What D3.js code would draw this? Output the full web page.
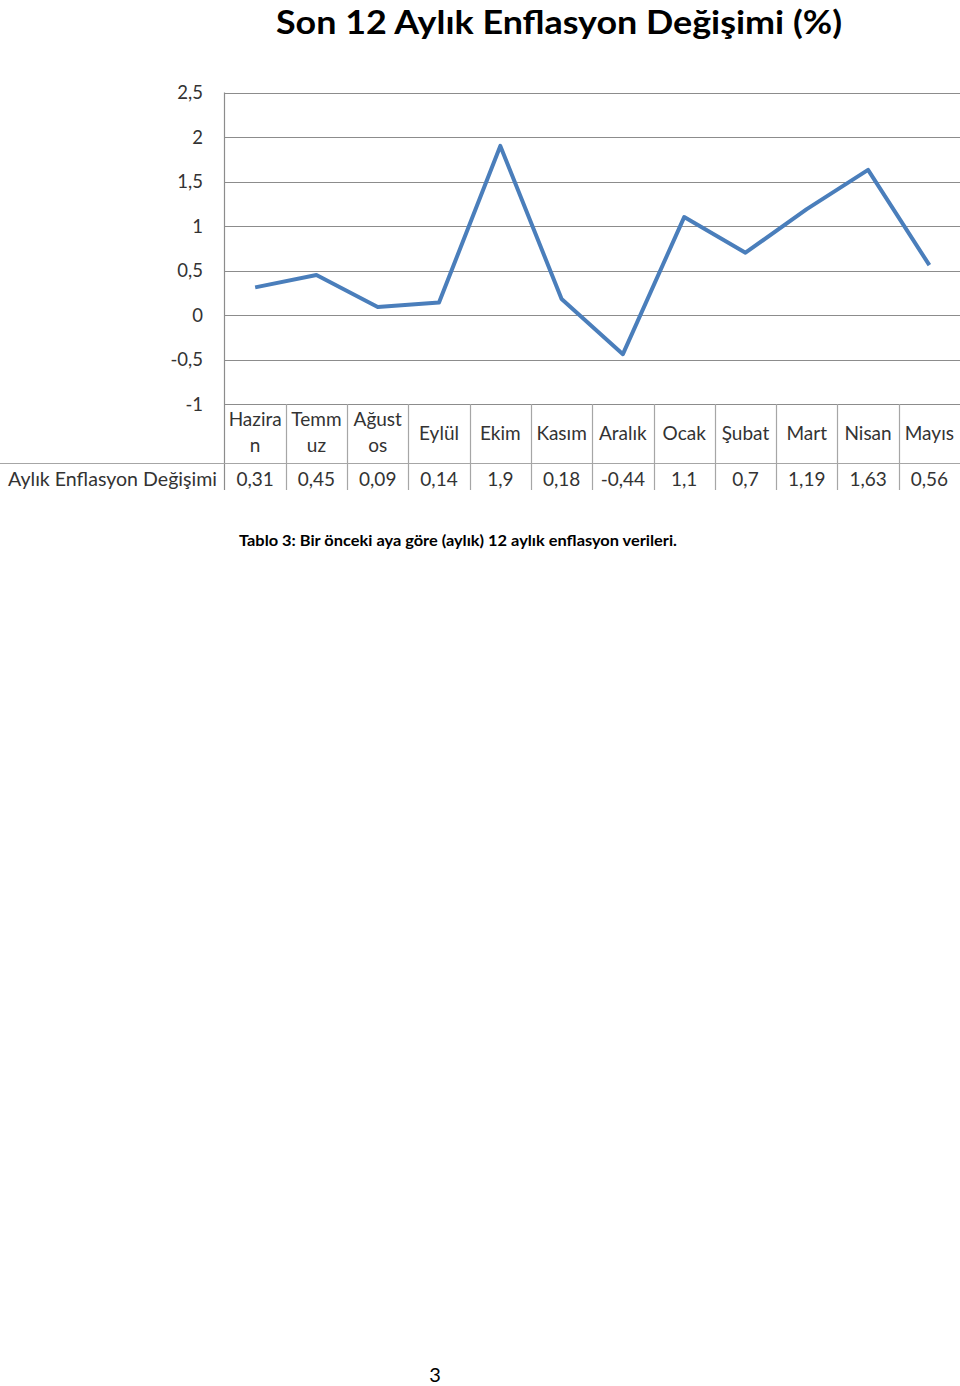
<!DOCTYPE html>
<html>
<head>
<meta charset="utf-8">
<script src="https://cdn.jsdelivr.net/npm/d3@7"></script>
<style>
  html, body { margin: 0; padding: 0; background: #fff; }
  svg { display: block; }
  text { font-family: Lato, "Open Sans", sans-serif; }
</style>
</head>
<body>
<svg id="chart" width="960" height="1386"></svg>
<script>
const months = ["Haziran", "Temmuz", "Ağustos", "Eylül", "Ekim", "Kasım", "Aralık", "Ocak", "Şubat", "Mart", "Nisan", "Mayıs"];
const monthLines = [["Hazira", "n"], ["Temm", "uz"], ["Ağust", "os"], ["Eylül"], ["Ekim"], ["Kasım"], ["Aralık"], ["Ocak"], ["Şubat"], ["Mart"], ["Nisan"], ["Mayıs"]];
const values = [0.31, 0.45, 0.09, 0.14, 1.9, 0.18, -0.44, 1.1, 0.7, 1.19, 1.63, 0.56];
const valueLabels = ["0,31", "0,45", "0,09", "0,14", "1,9", "0,18", "-0,44", "1,1", "0,7", "1,19", "1,63", "0,56"];
const yTicks = [-1, -0.5, 0, 0.5, 1, 1.5, 2, 2.5];
const yTickLabels = ["-1", "-0,5", "0", "0,5", "1", "1,5", "2", "2,5"];
const seriesName = "Aylık Enflasyon Değişimi";
const title = "Son 12 Aylık Enflasyon Değişimi (%)";
const caption = "Tablo 3: Bir önceki aya göre (aylık) 12 aylık enflasyon verileri.";
const pageNumber = "3";

(function () {
const svg = d3.select("#chart");
const pLeft = 224.5, pRight = 960, pTop = 92.5, pBottom = 404;
const headerBottom = 463.5, tableBottom = 490;

const x = d3.scaleBand().domain(months).range([pLeft, pRight]).paddingInner(0).paddingOuter(0);
const y = d3.scaleLinear().domain([-1, 2.5]).range([pBottom, pTop]);

// Title
svg.append("text")
  .attr("x", 559).attr("y", 34)
  .attr("text-anchor", "middle")
  .attr("font-size", 33).attr("font-weight", "bold").attr("fill", "#000")
  .attr("textLength", 566).attr("lengthAdjust", "spacingAndGlyphs")
  .text(title);

// Gridlines
svg.append("g").selectAll("line").data(yTicks).join("line")
  .attr("x1", pLeft).attr("x2", pRight)
  .attr("y1", d => Math.round(y(d)) + 0.5).attr("y2", d => Math.round(y(d)) + 0.5)
  .attr("stroke", "#8c8c8c").attr("stroke-width", 1.2);

// Y tick labels
svg.append("g").selectAll("text").data(yTicks).join("text")
  .attr("x", 203).attr("y", d => y(d))
  .attr("dy", "0.36em")
  .attr("text-anchor", "end")
  .attr("font-size", 18.5).attr("fill", "#333")
  .text((d, i) => yTickLabels[i]);

// Left axis line through table
svg.append("line")
  .attr("x1", pLeft).attr("x2", pLeft).attr("y1", pTop).attr("y2", tableBottom)
  .attr("stroke", "#8c8c8c").attr("stroke-width", 1.2);

// Table column separators
svg.append("g").selectAll("line").data(months.slice(1)).join("line")
  .attr("x1", d => Math.round(x(d)) + 0.5).attr("x2", d => Math.round(x(d)) + 0.5)
  .attr("y1", pBottom).attr("y2", tableBottom)
  .attr("stroke", "#a6a6a6").attr("stroke-width", 1.2);

// Header/value separator
svg.append("line")
  .attr("x1", 0).attr("x2", pRight).attr("y1", headerBottom).attr("y2", headerBottom)
  .attr("stroke", "#a6a6a6").attr("stroke-width", 1.2);

// Category labels
const cat = svg.append("g").selectAll("text").data(months).join("text")
  .attr("text-anchor", "middle")
  .attr("font-size", 19).attr("fill", "#333");
cat.each(function(d, i) {
  const lines = monthLines[i];
  const cx = x(d) + x.bandwidth() / 2;
  const t = d3.select(this);
  if (lines.length === 1) {
    t.append("tspan").attr("x", cx).attr("y", 440).text(lines[0]);
  } else {
    t.append("tspan").attr("x", cx).attr("y", 426).text(lines[0]);
    t.append("tspan").attr("x", cx).attr("y", 452).text(lines[1]);
  }
});

// Value labels
svg.append("g").selectAll("text").data(months).join("text")
  .attr("x", d => x(d) + x.bandwidth() / 2).attr("y", 486)
  .attr("text-anchor", "middle")
  .attr("font-size", 19).attr("fill", "#333")
  .text((d, i) => valueLabels[i]);

// Row label (clipped on the left)
svg.append("clipPath").attr("id", "rowclip").append("rect")
  .attr("x", 5).attr("y", 460).attr("width", 220).attr("height", 40);
svg.append("text")
  .attr("clip-path", "url(#rowclip)")
  .attr("x", 217).attr("y", 486)
  .attr("text-anchor", "end")
  .attr("font-size", 19).attr("fill", "#333")
  .attr("textLength", 209).attr("lengthAdjust", "spacingAndGlyphs")
  .text(seriesName);

// Line
const line = d3.line()
  .x((d, i) => x(months[i]) + x.bandwidth() / 2)
  .y(d => y(d));
svg.append("path")
  .datum(values)
  .attr("d", line)
  .attr("fill", "none")
  .attr("stroke", "#4a7ebb")
  .attr("stroke-width", 4)
  .attr("stroke-linejoin", "round");

// Caption
svg.append("text")
  .attr("x", 458).attr("y", 546)
  .attr("text-anchor", "middle")
  .attr("font-size", 15.5).attr("font-weight", "bold").attr("fill", "#000")
  .attr("textLength", 438).attr("lengthAdjust", "spacingAndGlyphs")
  .text(caption);

// Page number
svg.append("text")
  .attr("x", 435).attr("y", 1382)
  .attr("text-anchor", "middle")
  .attr("font-size", 20).attr("fill", "#000")
  .text(pageNumber);
})();
</script>
</body>
</html>
